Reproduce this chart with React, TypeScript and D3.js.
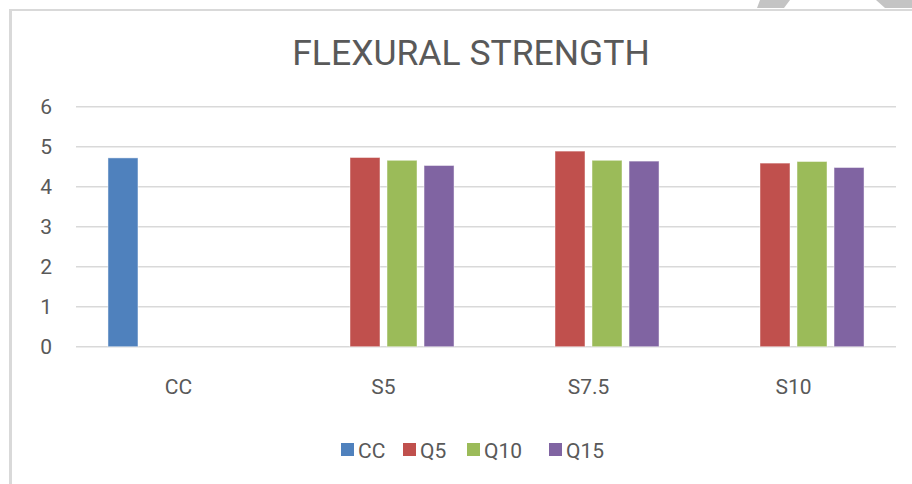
import * as d3 from "d3";

const CATEGORIES = ["CC", "S5", "S7.5", "S10"];
const SERIES = ["CC", "Q5", "Q10", "Q15"];
const COLORS = ["#4f81bd", "#c0504d", "#9bbb59", "#8064a2"];
// values[category][series]; null = no bar
const CC_VALUES = [4.72, null, null, null];
const S5_VALUES = [null, 4.73, 4.66, 4.53];
const S75_VALUES = [null, 4.89, 4.66, 4.64];
const S10_VALUES = [null, 4.59, 4.63, 4.48];
const Y_TICKS = [0, 1, 2, 3, 4, 5, 6];

const ROWS = [CC_VALUES, S5_VALUES, S75_VALUES, S10_VALUES];

const W = 912;
const H = 484;
const FONT = "Roboto, 'Open Sans', sans-serif";
const TEXT = "#595959";
const GRID = "#d9d9d9";

export default function App() {
  const plot = { left: 76, right: 896, top: 106.7, bottom: 346.7 };

  const x0 = d3
    .scaleBand<string>()
    .domain(CATEGORIES)
    .range([plot.left, plot.right])
    .paddingInner(0.312)
    .paddingOuter(0.156);
  const x1 = d3
    .scaleBand<string>()
    .domain(SERIES)
    .range([0, x0.bandwidth()])
    .paddingInner(0.19)
    .paddingOuter(0);
  const y = d3.scaleLinear().domain([0, 6]).range([plot.bottom, plot.top]);

  // legend layout
  const legendX = [341, 403, 467, 549];

  return (
    <svg
      width={W}
      height={H}
      style={{ position: "absolute", left: 0, top: 0, background: "#fff" }}
    >
      {/* page decorations */}
      <polygon points="760,0 790,0 784,8 757,8" fill="#c4c4c4" />
      <polygon points="876,0 912,0 912,8 885,8" fill="#c4c4c4" />
      {/* frame */}
      <line x1={9} x2={W} y1={10} y2={10} stroke={GRID} strokeWidth={2} />
      <line x1={10.5} x2={10.5} y1={9} y2={H} stroke={GRID} strokeWidth={3} />

      <text
        x={471}
        y={65}
        textAnchor="middle"
        fontFamily={FONT}
        fontSize={35.5}
        fill={TEXT}
      >
        FLEXURAL STRENGTH
      </text>

      {/* gridlines */}
      {Y_TICKS.map((t) => (
        <g key={t}>
          <line
            x1={plot.left}
            x2={plot.right}
            y1={y(t)}
            y2={y(t)}
            stroke={GRID}
            strokeWidth={1.5}
          />
          <text
            x={52}
            y={y(t)}
            dy="0.36em"
            textAnchor="end"
            fontFamily={FONT}
            fontSize={21}
            fill={TEXT}
          >
            {t}
          </text>
        </g>
      ))}

      {/* bars */}
      {CATEGORIES.map((c, ci) => (
        <g key={c} transform={`translate(${x0(c)},0)`}>
          {SERIES.map((s, si) => {
            const v = ROWS[ci][si];
            if (v == null) return null;
            return (
              <rect
                key={s}
                x={x1(s)}
                y={y(v)}
                width={x1.bandwidth()}
                height={y(0) - y(v)}
                fill={COLORS[si]}
                stroke="#ffffff"
                strokeOpacity={0.45}
                strokeWidth={1}
              />
            );
          })}
        </g>
      ))}

      {/* category labels */}
      {CATEGORIES.map((c) => (
        <text
          key={c}
          x={(x0(c) ?? 0) + x0.bandwidth() / 2}
          y={394}
          textAnchor="middle"
          fontFamily={FONT}
          fontSize={21}
          fill={TEXT}
        >
          {c}
        </text>
      ))}

      {/* legend */}
      {SERIES.map((s, i) => (
        <g key={s} transform={`translate(${legendX[i]},443)`}>
          <rect width={13} height={13} fill={COLORS[i]} />
          <text x={17} y={15} fontFamily={FONT} fontSize={21} fill={TEXT}>
            {s}
          </text>
        </g>
      ))}
    </svg>
  );
}
